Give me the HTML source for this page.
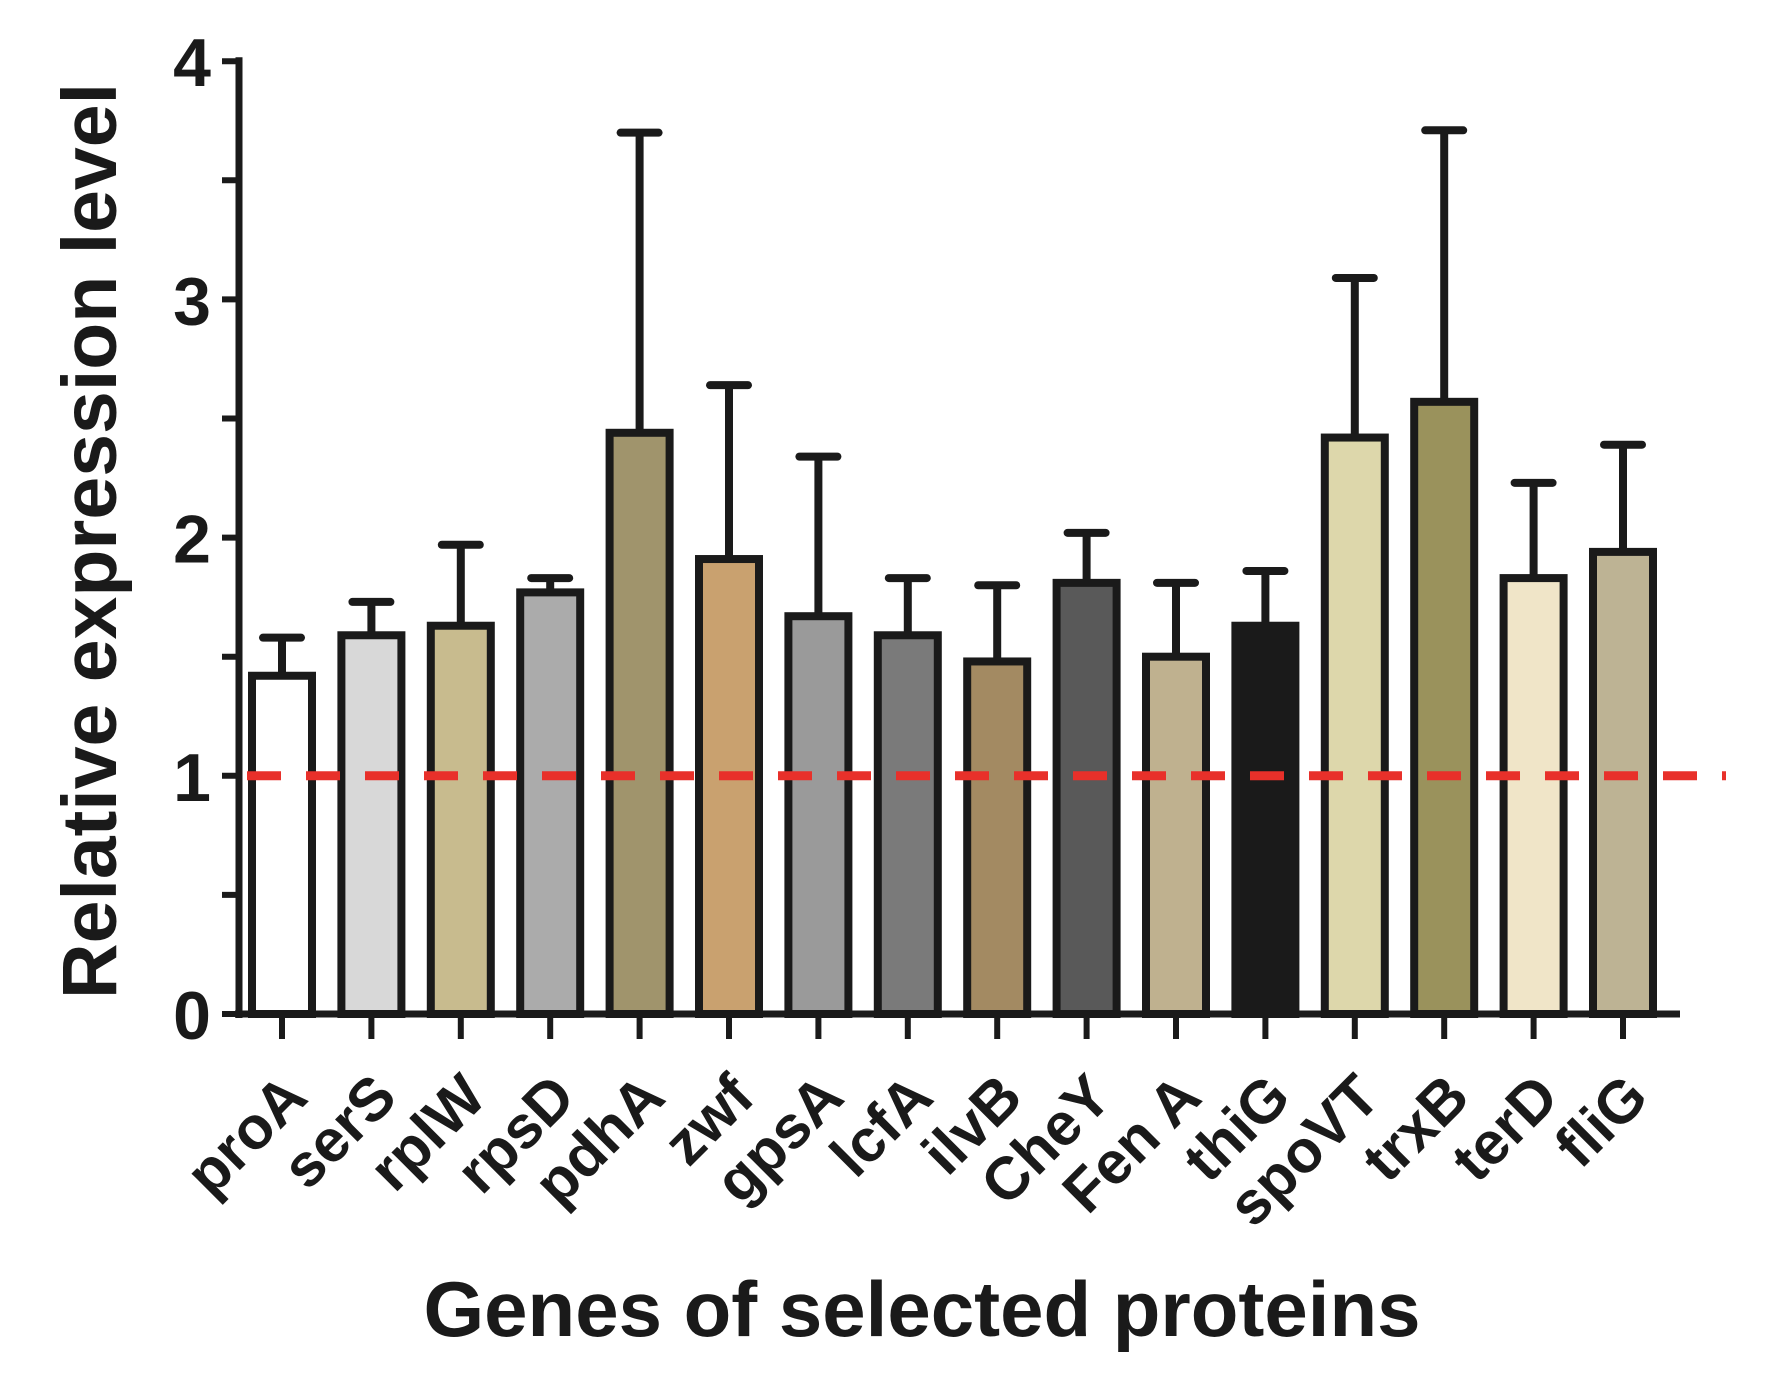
<!DOCTYPE html>
<html><head><meta charset="utf-8"><style>
html,body{margin:0;padding:0;background:#fff}
svg{display:block;font-family:"Liberation Sans",Arial,sans-serif;font-weight:bold}
</style></head><body>
<svg id="chart" width="1766" height="1386" viewBox="0 0 1766 1386"></svg>
<script>
const categories=["proA","serS","rplW","rpsD","pdhA","zwf","gpsA","lcfA","ilvB","CheY","Fen A","thiG","spoVT","trxB","terD","fliG"];
const means=[1.42,1.59,1.63,1.77,2.44,1.91,1.67,1.59,1.48,1.81,1.50,1.63,2.42,2.57,1.83,1.94];
const upperErr=[1.58,1.73,1.97,1.83,3.70,2.64,2.34,1.83,1.80,2.02,1.81,1.86,3.09,3.71,2.23,2.39];
const colors=["#ffffff","#d8d8d8","#c8bb8e","#ababab","#a0946c","#c9a16f","#9a9a9a","#7a7a7a","#a38a62","#595959","#bfb18f","#1a1a1a","#ddd7ab","#9a925c","#f0e5c8","#bdb394"];
const yTicks=[0,1,2,3,4];
const refLine=1;
const NS="http://www.w3.org/2000/svg";
const svg=document.getElementById("chart");
const X0=239,Y0=1014,UNIT=238.2,C0=282,STEP=89.4,BW=60;
const y=v=>Y0-v*UNIT;
const x=i=>C0+i*STEP;
function mk(t,a,p){const e=document.createElementNS(NS,t);for(const k in a)e.setAttribute(k,a[k]);(p||svg).appendChild(e);return e;}
categories.forEach((c,i)=>{
  const g=mk("g",{});
  
  
  mk("line",{x1:x(i),x2:x(i),y1:y(means[i]),y2:y(upperErr[i]),stroke:"#1a1a1a","stroke-width":8},g);
  mk("line",{x1:x(i)-19,x2:x(i)+19,y1:y(upperErr[i]),y2:y(upperErr[i]),stroke:"#1a1a1a","stroke-width":8,"stroke-linecap":"round"},g);
  mk("rect",{x:x(i)-BW/2,y:y(means[i]),width:BW,height:Y0-y(means[i]),fill:colors[i],stroke:"#1a1a1a","stroke-width":8},g);
});
const rl=mk("line",{x1:X0+8,x2:1726,y1:y(refLine),y2:y(refLine),stroke:"#e8302a","stroke-width":9,"stroke-dasharray":"34 25"});


const ya=mk("line",{x1:X0,x2:X0,y1:y(4)-4,y2:Y0+4,stroke:"#1a1a1a","stroke-width":7});


const xa=mk("line",{x1:X0-4,x2:1680,y1:Y0,y2:Y0,stroke:"#1a1a1a","stroke-width":7});


for(let v=0;v<=4;v+=0.5){mk("line",{x1:X0-17,x2:X0,y1:y(v),y2:y(v),stroke:"#1a1a1a","stroke-width":6});}
yTicks.forEach(v=>{
  const t=mk("text",{x:X0-28,y:y(v)+25,"text-anchor":"end","font-size":68,fill:"#1a1a1a"});
  t.textContent=v;
  
  
});
categories.forEach((c,i)=>{
  mk("line",{x1:x(i),x2:x(i),y1:Y0,y2:Y0+25,stroke:"#1a1a1a","stroke-width":6});
  const t=mk("text",{x:0,y:0,"text-anchor":"end","font-size":60,fill:"#1a1a1a",transform:`translate(${x(i)+28},${Y0+86}) rotate(-45)`});
  t.textContent=c;
  
  
});
const yt=mk("text",{x:0,y:0,"text-anchor":"middle","font-size":77,fill:"#1a1a1a",transform:"translate(116,541) rotate(-90)"});
yt.textContent="Relative expression level";


const xt=mk("text",{x:922,y:1336,"text-anchor":"middle","font-size":78,fill:"#1a1a1a"});
xt.textContent="Genes of selected proteins";


</script>
</body></html>
